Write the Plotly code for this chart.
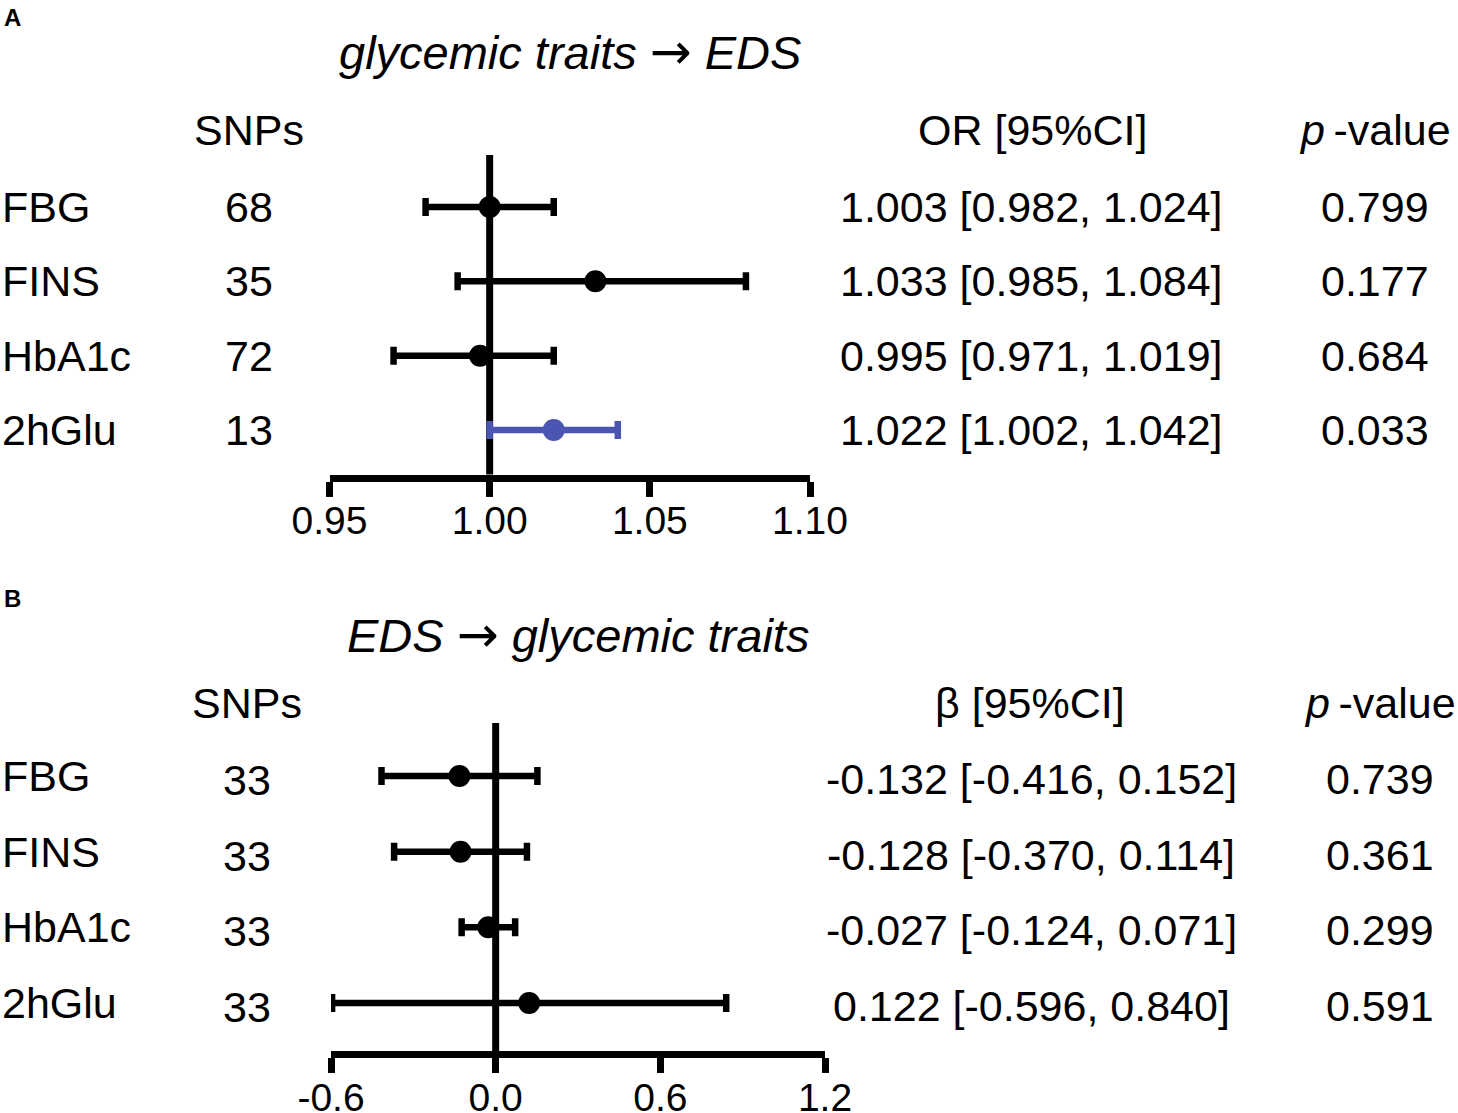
import plotly.graph_objects as go

W, H = 1458, 1113

# ---------------- data ----------------
traits = ["FBG", "FINS", "HbA1c", "2hGlu"]

# Panel A: glycemic traits -> EDS
snps_a = [68, 35, 72, 13]
or_text = ["1.003 [0.982, 1.024]", "1.033 [0.985, 1.084]",
           "0.995 [0.971, 1.019]", "1.022 [1.002, 1.042]"]
p_a = ["0.799", "0.177", "0.684", "0.033"]
# positions of the drawn marks
or_est = [1.000, 1.033, 0.997, 1.020]
or_lo = [0.980, 0.990, 0.970, 1.000]
or_hi = [1.020, 1.080, 1.020, 1.040]
colors_a = ["#000000", "#000000", "#000000", "#4a56b2"]
ticks_a = [0.95, 1.00, 1.05, 1.10]

# Panel B: EDS -> glycemic traits
snps_b = [33, 33, 33, 33]
beta_est = [-0.132, -0.128, -0.027, 0.122]
beta_lo = [-0.416, -0.370, -0.124, -0.596]
beta_hi = [0.152, 0.114, 0.071, 0.840]
p_b = ["0.739", "0.361", "0.299", "0.591"]
ticks_b = [-0.6, 0.0, 0.6, 1.2]

rows = [0, 1, 2, 3]

FONT = "Liberation Sans"
BLACK = "#000000"
LW = 7


def py(px):
    return 1 - px / H


def pxx(px):
    return px / W


def yrange(row0_px, row3_px, top_px, bot_px):
    per = (row3_px - row0_px) / 3.0
    return [3 + (bot_px - row3_px) / per, (top_px - row0_px) / per]


fig = go.Figure()

# Panel A markers
for i in rows:
    fig.add_trace(go.Scatter(
        x=[or_est[i]], y=[rows[i]], mode="markers",
        marker=dict(size=22, color=colors_a[i]),
        error_x=dict(type="data", symmetric=False,
                     array=[or_hi[i] - or_est[i]],
                     arrayminus=[or_est[i] - or_lo[i]],
                     color=colors_a[i], thickness=6.5, width=9),
        xaxis="x", yaxis="y", showlegend=False, hoverinfo="skip"))

# Panel B markers
fig.add_trace(go.Scatter(
    x=beta_est, y=rows, mode="markers",
    marker=dict(size=22, color=BLACK),
    error_x=dict(type="data", symmetric=False,
                 array=[h - e for h, e in zip(beta_hi, beta_est)],
                 arrayminus=[e - l for e, l in zip(beta_est, beta_lo)],
                 color=BLACK, thickness=6.5, width=9),
    xaxis="x2", yaxis="y2", showlegend=False, hoverinfo="skip"))

axis_common = dict(showgrid=False, zeroline=False, showline=True,
                   linecolor=BLACK, linewidth=LW, ticks="outside",
                   ticklen=15, tickwidth=LW, tickcolor=BLACK, automargin=False,
                   ticklabelstandoff=-9,
                   tickfont=dict(family=FONT, size=39, color=BLACK))

# domain bottoms shifted by half the line width so that the line centre
# lands on the reference position
a_top, a_bot = 155, 478 - LW / 2
b_top, b_bot = 723, 1054.5 - LW / 2

fig.update_layout(
    template="none",
    width=W, height=H,
    margin=dict(l=0, r=0, t=0, b=0, pad=0, autoexpand=False),
    paper_bgcolor="white", plot_bgcolor="white",
    xaxis=dict(domain=[pxx(329.5), pxx(810)], range=[0.95, 1.10],
               tickvals=ticks_a, ticktext=[f"{v:.2f}" for v in ticks_a],
               anchor="y", **axis_common),
    yaxis=dict(domain=[py(a_bot), py(a_top)],
               range=yrange(207, 430, a_top, a_bot),
               visible=False, anchor="x", automargin=False),
    xaxis2=dict(domain=[pxx(331), pxx(825)], range=[-0.6, 1.2],
                tickvals=ticks_b, ticktext=[f"{v:.1f}" for v in ticks_b],
                anchor="y2", **axis_common),
    yaxis2=dict(domain=[py(b_bot), py(b_top)],
                range=yrange(776, 1003, b_top, b_bot),
                visible=False, anchor="x2", automargin=False),
    shapes=[
        dict(type="line", xref="x", yref="y domain", x0=1.0, x1=1.0,
             y0=0, y1=1, line=dict(color=BLACK, width=LW), layer="below"),
        dict(type="line", xref="x2", yref="y2 domain", x0=0.0, x1=0.0,
             y0=0, y1=1, line=dict(color=BLACK, width=LW), layer="below"),
    ],
)

ann = []


def txt(x, y, s, size=43, xanchor="center", yref="paper", yshift=0):
    ann.append(dict(x=x, y=y, xref="paper", yref=yref, text=s, showarrow=False,
                    xanchor=xanchor, yanchor="middle", yshift=yshift,
                    font=dict(family=FONT, size=size, color=BLACK)))


ARROW = '<span style="font-family:DejaVu Sans;font-size:50px">→</span>'
PVAL = "<i>p</i>\u2009-value"

# Panel letters
txt(pxx(2), py(17), "<b>A</b>", size=24, xanchor="left")
txt(pxx(2), py(598), "<b>B</b>", size=24, xanchor="left")

# Titles
txt(pxx(570), py(52), "<i>glycemic traits</i> " + ARROW + " <i>EDS</i>", size=47)
txt(pxx(578), py(635), "<i>EDS</i> " + ARROW + " <i>glycemic traits</i>", size=47)

# Headers A
txt(pxx(249), py(130), "SNPs")
txt(pxx(1032), py(130), "OR [95%CI]")
txt(pxx(1375), py(130), PVAL)
# Headers B
txt(pxx(247), py(703), "SNPs")
txt(pxx(1030), py(703), "β [95%CI]")
txt(pxx(1380), py(703), PVAL)

# Row texts A
for i in rows:
    txt(pxx(0), rows[i], traits[i], xanchor="left", yref="y")
    txt(pxx(249), rows[i], str(snps_a[i]), yref="y")
    txt(pxx(1031), rows[i], or_text[i], yref="y")
    txt(pxx(1375), rows[i], p_a[i], yref="y")

# Row texts B
for i in rows:
    bt = f"{beta_est[i]:.3f} [{beta_lo[i]:.3f}, {beta_hi[i]:.3f}]"
    txt(pxx(0), rows[i], traits[i], xanchor="left", yref="y2")
    txt(pxx(247), rows[i], str(snps_b[i]), yref="y2", yshift=-4)
    txt(pxx(1031), rows[i], bt, yref="y2", yshift=-3)
    txt(pxx(1380), rows[i], p_b[i], yref="y2", yshift=-3)

fig.update_layout(annotations=ann)

fig.write_html(
    "out.html",
    config={"displayModeBar": False},
    post_script="document.body.style.margin='0px';document.body.style.overflow='hidden';",
)
